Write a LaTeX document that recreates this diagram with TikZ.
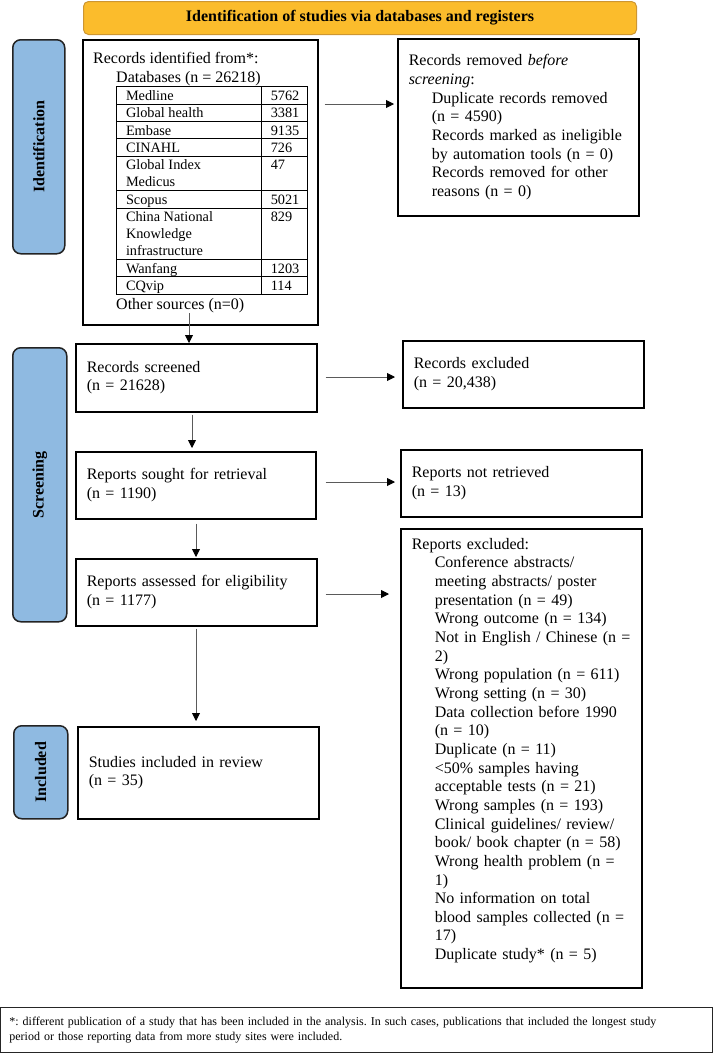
\documentclass[tikz,border=0pt]{standalone}
\usepackage{fontspec}
\setmainfont{Liberation Serif}
\usepackage{array}
\usetikzlibrary{arrows.meta}
\frenchspacing
\definecolor{hdrfill}{RGB}{251,188,44}
\definecolor{hdrdraw}{RGB}{205,150,50}
\definecolor{lblfill}{RGB}{143,186,225}
\definecolor{lbldraw}{RGB}{35,35,35}
\definecolor{arrgray}{RGB}{90,90,90}
\newcommand\bodyfnt{\fontsize{16}{18.65}\selectfont}
\newcommand\tabfnt{\fontsize{14.3}{17}\selectfont}
\newcommand\footfnt{\fontsize{12}{15}\selectfont}
\newcommand\ind{\hspace*{23pt}}
\begin{document}
\begin{tikzpicture}[x=1pt,y=-1pt,
  box/.style={draw=black, line width=1.5pt, anchor=north west, align=left,
    inner xsep=11pt, inner ysep=0pt, font=\bodyfnt},
  lbl/.style={draw=lbldraw, line width=1.5pt, fill=lblfill, rounded corners=8pt,
    anchor=north west, inner sep=0pt},
  lbltext/.style={rotate=90, inner sep=0pt, font=\bodyfnt\bfseries},
  arr/.style={draw=arrgray, line width=0.9pt,
    -{Triangle[length=8pt,width=8pt,color=black]}},
  txt/.style={anchor=base west, inner sep=0pt, font=\bodyfnt}]
\useasboundingbox (0,0) rectangle (714,1053);

% header
\node[anchor=north west, draw=hdrdraw, fill=hdrfill, line width=1pt,
  rounded corners=5pt, minimum width=553pt, minimum height=33pt,
  inner sep=0pt, font=\bodyfnt\bfseries] (hdr) at (83,1)
  {Identification of studies via databases and registers};

% side labels
\node[lbl, minimum width=52pt, minimum height=214pt] (idlab) at (12,39) {};
\node[lbltext] (idlabt) at (idlab.center) {Identification};
\node[lbl, minimum width=54pt, minimum height=274pt] (scrlab) at (12,347) {};
\node[lbltext] (scrlabt) at (scrlab.center) {Screening};
\node[lbl, minimum width=54pt, minimum height=93pt] (inclab) at (13,725) {};
\node[lbltext] (inclabt) at (inclab.center) {Included};

% identification box
\node[box, minimum width=235pt, minimum height=285pt] (ident) at (82,39) {};
\node[txt] (identT) at (93,63) {Records identified from*:};
\node[txt] (dbT) at (116,82) {Databases (n = 26218)};
\node[anchor=north west, inner sep=0pt, font=\tabfnt] (tab) at (116,86) {%
  \setbox\strutbox\hbox{\vrule height13.3pt depth3.3pt width0pt}%
  \setlength{\tabcolsep}{9pt}\setlength{\arrayrulewidth}{0.8pt}%
  \begin{tabular}{|p{126pt}|p{27pt}|}\hline
  Medline & 5762\\\hline
  Global health & 3381\\\hline
  Embase & 9135\\\hline
  CINAHL & 726\\\hline
  Global Index\newline Medicus & 47\\\hline
  Scopus & 5021\\\hline
  China National\newline Knowledge\newline infrastructure & 829\\\hline
  Wanfang & 1203\\\hline
  CQvip & 114\\\hline
  \end{tabular}};
\node[txt] (os) at (116,309) {Other sources (n=0)};

\node[box, text width=219pt, minimum height=177pt] (removed) at (397,38)
  {Records removed \textit{before}\\
   \textit{screening}:\\
   \ind Duplicate records removed\\
   \ind (n = 4590)\\
   \ind Records marked as ineligible\\
   \ind by automation tools (n = 0)\\
   \ind Records removed for other\\
   \ind reasons (n = 0)};

% screening
\node[box, text width=219pt, minimum height=68pt] (screened) at (75,343)
  {Records screened\\ (n = 21628)};
\node[box, text width=219pt, minimum height=67pt] (excluded) at (402,340)
  {Records excluded\\ (n = 20,438)};
\node[box, text width=218pt, minimum height=67pt] (sought) at (75,451)
  {Reports sought for retrieval\\ (n = 1190)};
\node[box, text width=219pt, minimum height=67pt] (notret) at (400,449)
  {Reports not retrieved\\ (n = 13)};
\node[box, text width=219pt, minimum height=67pt] (assessed) at (75,558)
  {Reports assessed for eligibility\\ (n = 1177)};
\node[box, text width=219pt, minimum height=459pt] (repexcl) at (400,528)
  {Reports excluded:\\
   \ind Conference abstracts/\\
   \ind meeting abstracts/ poster\\
   \ind presentation (n = 49)\\
   \ind Wrong outcome (n = 134)\\
   \ind Not in English / Chinese (n =\\
   \ind 2)\\
   \ind Wrong population (n = 611)\\
   \ind Wrong setting (n = 30)\\
   \ind Data collection before 1990\\
   \ind (n = 10)\\
   \ind Duplicate (n = 11)\\
   \ind <50\% samples having\\
   \ind acceptable tests (n = 21)\\
   \ind Wrong samples (n = 193)\\
   \ind Clinical guidelines/ review/\\
   \ind book/ book chapter (n = 58)\\
   \ind Wrong health problem (n =\\
   \ind 1)\\
   \ind No information on total\\
   \ind blood samples collected (n =\\
   \ind 17)\\
   \ind Duplicate study* (n = 5)\\
   \mbox{}};

% included
\node[box, text width=219pt, minimum height=92pt] (studies) at (77,726)
  {Studies included in review\\ (n = 35)};

% footnote
\node[anchor=north west, draw=black!85, line width=0.8pt, minimum width=712pt,
  minimum height=45pt, inner xsep=9pt, inner ysep=0pt, text width=694pt,
  align=left, font=\footfnt] (foot) at (0,1007)
  {*: different publication of a study that has been included in the analysis. In such cases, publications that included the longest study\\
   period or those reporting data from more study sites were included.\\[4pt]};

% connectors
\coordinate (yA) at (0,104);
\draw[arr, shorten <=6pt, shorten >=3pt] (ident.east |- yA) -- (removed.west |- yA);
\coordinate (osA) at (189,313);
\draw[arr] (osA) -- (osA |- screened.north);
\coordinate (yB) at (0,377);
\draw[arr, shorten <=8pt, shorten >=7pt] (screened.east |- yB) -- (excluded.west |- yB);
\coordinate (yC) at (0,482);
\draw[arr, shorten <=9pt, shorten >=5pt] (sought.east |- yC) -- (notret.west |- yC);
\coordinate (yD) at (0,594);
\draw[arr, shorten <=8pt, shorten >=11pt] (assessed.east |- yD) -- (repexcl.west |- yD);
\coordinate (xE) at (192,0);
\draw[arr, shorten <=2pt, shorten >=3pt] (screened.south -| xE) -- (sought.north -| xE);
\coordinate (xF) at (196,0);
\draw[arr, shorten <=4pt, shorten >=1pt] (sought.south -| xF) -- (assessed.north -| xF);
\draw[arr, shorten <=2pt, shorten >=5pt] (assessed.south -| xF) -- (studies.north -| xF);
\end{tikzpicture}
\end{document}
